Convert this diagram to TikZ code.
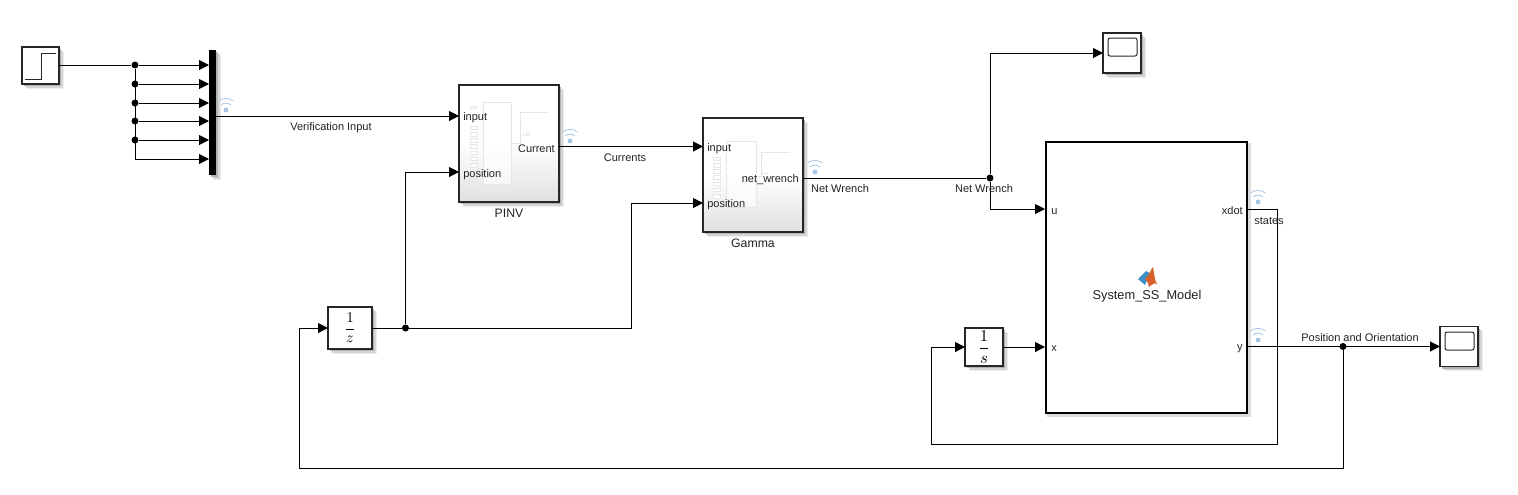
\documentclass[tikz,border=0pt]{standalone}
\usepackage{fontspec}
\setmainfont{Liberation Sans}
\usetikzlibrary{arrows.meta,shadows}
\def\px{*0.75pt}
\definecolor{wifiblue}{HTML}{A8C6E4}
\definecolor{inkc}{HTML}{222222}
\definecolor{faintc}{HTML}{E6E6E6}
\definecolor{matorange}{HTML}{D9602B}
\definecolor{matblue}{HTML}{3C8FC6}
\tikzset{
  softshadow/.style={
    general shadow={fill=black!7,draw=none,shade=false,shadow xshift=3.6pt,shadow yshift=-3.6pt},
    general shadow={fill=black!16,draw=none,shade=false,shadow xshift=2.7pt,shadow yshift=-2.7pt},
    general shadow={fill=black!30,draw=none,shade=false,shadow xshift=1.7pt,shadow yshift=-1.7pt}},
  blockbox/.style={draw=black!85,line width=1.1\px,fill=white,inner sep=0pt,outer sep=0pt,softshadow},
  subsys/.style={blockbox,top color=white,bottom color=black!12,middle color=white,shading angle=0},
  mainbox/.style={draw=black,line width=2.6\px,fill=white,inner sep=0pt,outer sep=0pt,
    general shadow={fill=black!14,draw=black!14,line width=3\px,shadow xshift=1.5pt,shadow yshift=-1.5pt}},
  muxbar/.style={fill=black,draw=none,inner sep=0pt,outer sep=0pt,softshadow},
  wire/.style={draw=black,line width=1\px},
  sig/.style={wire,-{Triangle[length=10\px,width=10\px]}},
  joint/.style={circle,fill=black,inner sep=0pt,minimum size=7\px},
  txt/.style={font=\fontsize{8.25}{10}\selectfont,text=inkc,inner sep=0pt,text height=8\px,text depth=2\px,yshift=-0.75pt},
  bigtxt/.style={font=\fontsize{9.2}{11}\selectfont,text=inkc,inner sep=0pt,text height=9\px,text depth=3\px,yshift=-0.75pt},
  modeltxt/.style={font=\fontsize{9.6}{11}\selectfont,text=inkc,inner sep=0pt,text height=9\px,text depth=3\px,yshift=-0.75pt},
  faint/.style={draw=faintc,line width=0.7\px},
  pics/wifi/.style={code={
    \fill[wifiblue] (0,0) circle[radius=2.5\px];
    \draw[wifiblue,line width=0.8\px] (-5,-5) .. controls (-2,-7.5) and (2,-7.5) .. (5,-5);
    \draw[wifiblue,line width=0.8\px] (-7.5,-9) .. controls (-3,-12.5) and (3,-12.5) .. (7.5,-9);
  }},
  pics/innerports/.style={code={
    \foreach \yy in {0,6.2,...,38}
      \draw[faintc,fill=white,line width=0.6\px] (0,\yy) rectangle (7,\yy+3.6);
  }}
}
\begin{document}
\begin{tikzpicture}[x=0.75pt,y=-0.75pt]
\useasboundingbox (0,0) rectangle (1518,494);
% blocks
\node[blockbox,minimum width=37\px,minimum height=37\px] (stepsrc) at (40.5,65.5) {};
\node[muxbar,minimum width=7\px,minimum height=125\px] (mux) at (212.5,112.5) {};
\node[subsys,minimum width=100\px,minimum height=117\px] (pinv) at (509,143.5) {};
\node[subsys,minimum width=100\px,minimum height=114\px] (gamma) at (753,175) {};
\node[blockbox,minimum width=44\px,minimum height=42\px] (delay) at (350,328) {\scalebox{1.12}{$\displaystyle\frac{1}{z}$}};
\node[blockbox,minimum width=38\px,minimum height=38\px] (integ) at (984,347) {\scalebox{1.25}{$\displaystyle\frac{1}{s}$}};
\node[mainbox,minimum width=201\px,minimum height=271\px] (model) at (1146.5,277.5) {};
\node[blockbox,minimum width=38\px,minimum height=40\px] (scopetop) at (1122,53) {};
\node[blockbox,minimum width=38\px,minimum height=40\px] (scopeout) at (1459,346.5) {};
% block glyphs
\draw[black!85,line width=1\px] (25,79) -- (41,79) -- (41,53) -- (56,53);
\draw[black!85,line width=1\px,rounded corners=2\px] (1108,38) rectangle (1137,56);
\draw[black!85,line width=1\px,rounded corners=2\px] (1445,332) rectangle (1474,350);
% inner sketches
\fill[white,opacity=.6] (483,102) rectangle (511,184);
\draw[faint] (483,102) rectangle (511,184);
\pic at (470,126) {innerports};
\draw[faint] (470,106) rectangle (476,108);
\draw[faint] (511,143) -- (520,143) -- (520,112) -- (548,112);
\draw[faint] (520,134) -- (526,134);
\draw[faint] (526,132) rectangle (529,135);
\fill[white,opacity=.6] (726,141) rectangle (756,207);
\draw[faint] (726,141) rectangle (756,207);
\pic at (713,157) {innerports};
\draw[faint] (756,176) -- (761,176) -- (761,152) -- (790,152);
\draw[faint] (761,173) -- (768,173);
% MATLAB icon
\fill[matblue] (1138,279) -- (1146,271) -- (1150,273) -- (1145,285) -- cycle;
\fill[matorange] (1145,279) .. controls (1150,275) and (1151,268) .. (1153,267)
  .. controls (1154,272) and (1155,282) .. (1157,284)
  .. controls (1154,282) and (1152,285) .. (1149,287) .. controls (1149,284) and (1147,281) .. (1145,279) -- cycle;
% helper points
\coordinate (muxin1) at (209,65);
\coordinate (muxin2) at (209,84);
\coordinate (muxin3) at (209,103);
\coordinate (muxin4) at (209,121);
\coordinate (muxin5) at (209,140);
\coordinate (muxin6) at (209,159);
\coordinate (muxout) at (216,116);
\coordinate (pinvin) at (459,116);
\coordinate (pinvpos) at (459,172);
\coordinate (pinvout) at (559,146.5);
\coordinate (gammain) at (703,146.5);
\coordinate (gammapos) at (703,203);
\coordinate (gammaout) at (803,178);
\coordinate (modelu) at (1045,209);
\coordinate (modelx) at (1045,347);
\coordinate (modeldot) at (1248,209);
\coordinate (modely) at (1248,346.5);
\coordinate (step1) at (59,65);
\coordinate (delayout) at (372,328);
% junctions
\node[joint] (ja) at (135,65) {};
\node[joint] (jb) at (135,84) {};
\node[joint] (jc) at (135,103) {};
\node[joint] (jd) at (135,121) {};
\node[joint] (je) at (135,140) {};
\coordinate (jf) at (135,159);
\node[joint] (jdelay) at (405.5,328) {};
\node[joint] (jnet) at (990,178) {};
\node[joint] (jpos) at (1343,346.5) {};
% connectors
\draw[wire] (step1) -- (ja);
\draw[sig] (ja) -- (muxin1);
\draw[sig] (jb) -- (muxin2);
\draw[sig] (jc) -- (muxin3);
\draw[sig] (jd) -- (muxin4);
\draw[sig] (je) -- (muxin5);
\draw[sig] (ja) -- (jf) -- (muxin6);
\draw[sig] (muxout) -- (pinvin);
\draw[sig] (pinvout) -- (gammain);
\draw[wire] (gammaout) -- (jnet);
\draw[sig] (jnet) |- (scopetop.west);
\draw[sig] (jnet) |- (modelu);
\draw[wire] (delayout) -- (jdelay);
\draw[sig] (jdelay) |- (pinvpos);
\draw[sig] (jdelay) -- (631,328) |- (gammapos);
\draw[sig] (integ.east) -- (modelx);
\draw[sig] (modeldot) -- (1277,209) |- (931,444) |- (integ.west);
\draw[sig] (modely) -- (scopeout.west);
\draw[sig] (jpos) |- (299,468) |- (delay.west);
% signal icons
\pic at (226,110) {wifi};
\pic at (570,141) {wifi};
\pic at (815,172) {wifi};
\pic at (1258,202) {wifi};
\pic at (1258,340) {wifi};
% labels
\node[txt] (lblverif) at (331,126) {Verification Input};
\node[txt] (lblcurr) at (625,157) {Currents};
\node[txt] (lblnet) at (840,188) {Net Wrench};
\node[txt] (lblnettwo) at (984,188) {Net Wrench};
\node[txt] (lblstates) at (1269,220) {states};
\node[txt] (lblpos) at (1360,337) {Position and Orientation};
\node[bigtxt] (lblpinv) at (509,213) {PINV};
\node[bigtxt] (lblgamma) at (753,243) {Gamma};
\node[modeltxt] (lblmodel) at (1147,295) {System\_SS\_Model};
\node[txt,anchor=west] (pia) at (463,116) {input};
\node[txt,anchor=west] (pib) at (463,173) {position};
\node[txt,anchor=east] (pic) at (555,148) {Current};
\node[txt,anchor=west] (gia) at (707,147) {input};
\node[txt,anchor=west] (gib) at (707,203) {position};
\node[txt,anchor=east] (gic) at (799,178) {net\_wrench};
\node[txt,anchor=west] (mu) at (1051,210) {u};
\node[txt,anchor=west] (mx) at (1051,347) {x};
\node[txt,anchor=east] (mxd) at (1243,210) {xdot};
\node[txt,anchor=east] (my) at (1243,346) {y};
\end{tikzpicture}
\end{document}
